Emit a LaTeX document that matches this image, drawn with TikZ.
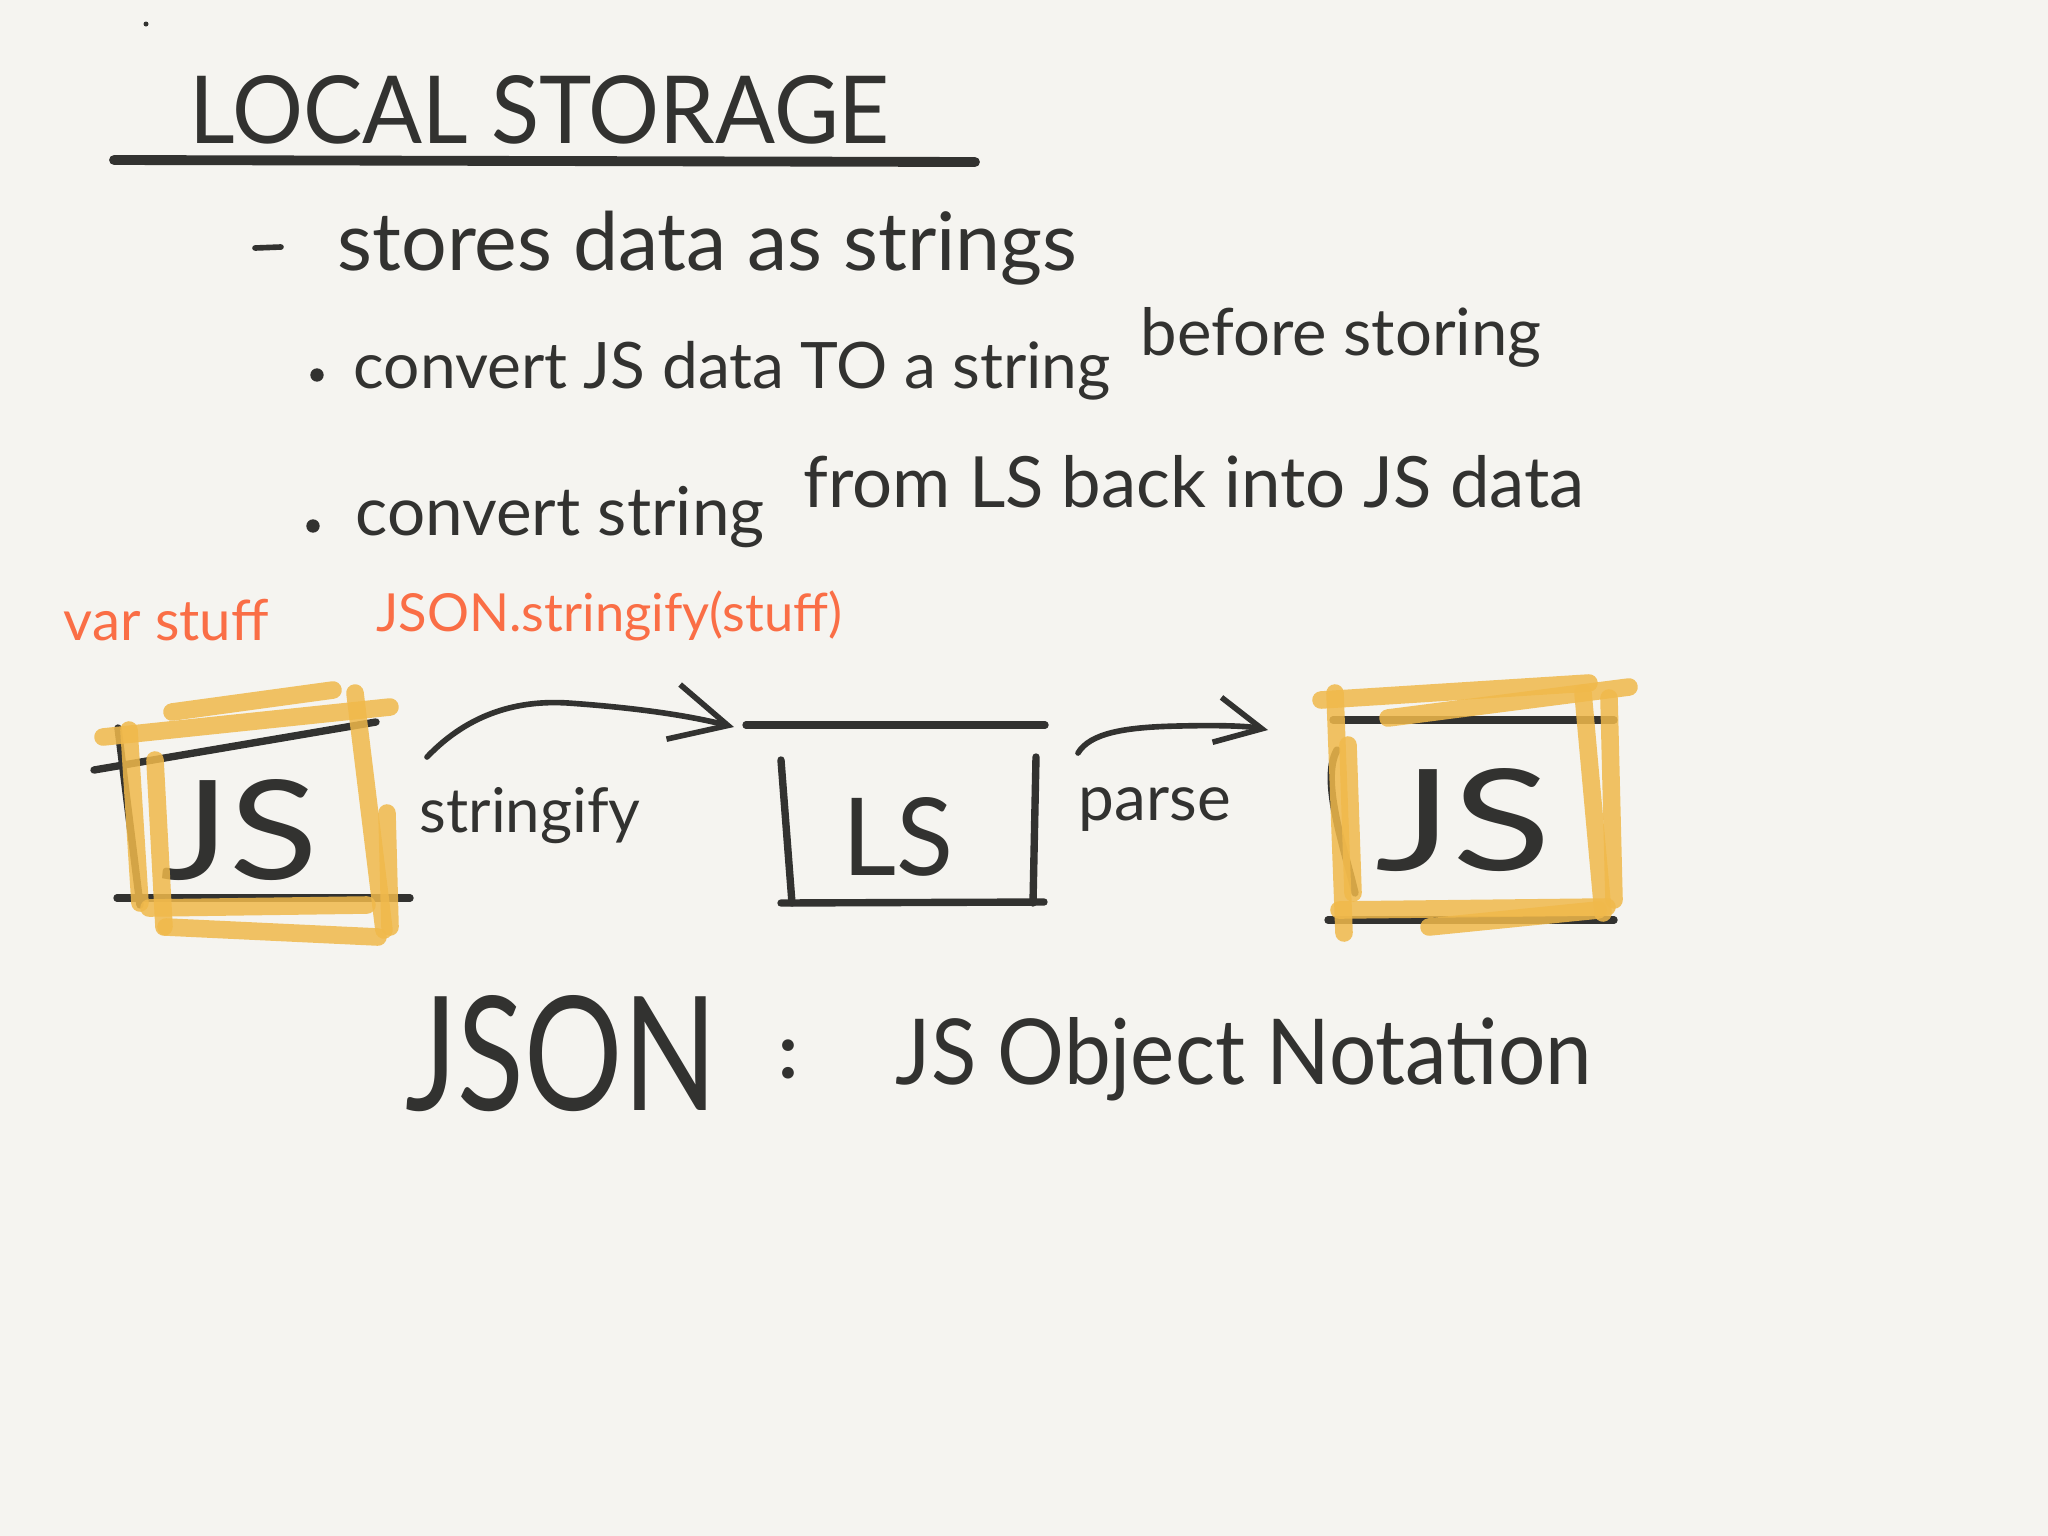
\documentclass[tikz,border=0pt]{standalone}
\usepackage{fontspec}
\setmainfont{Lato}
\usetikzlibrary{arrows.meta}
\definecolor{ink}{RGB}{50,50,48}
\definecolor{hl}{RGB}{240,185,75}
\definecolor{redink}{RGB}{250,110,70}
\definecolor{paper}{RGB}{245,244,240}
\newlength\pxu \setlength\pxu{0.01cm}
\newcommand\fw[2]{\resizebox{#1\pxu}{!}{#2}}
\newcommand\fwh[3]{\resizebox{#1\pxu}{#2\pxu}{#3}}
\begin{document}
\begin{tikzpicture}[x=0.01cm,y=-0.01cm,line cap=round,line join=round,
  inkline/.style={draw=ink,line width=1.6pt},
  boxline/.style={draw=ink,line width=2.1pt},
  hlstroke/.style={draw=hl,line width=5pt,opacity=0.85},
  txt/.style={inner sep=0pt,anchor=base west,text=ink},
  redtxt/.style={inner sep=0pt,anchor=base west,text=redink},
  dotb/.style={circle,fill=ink,inner sep=0pt,minimum size=3.8pt},
  barb/.style={-{Straight Barb[length=#1,width=#1,line width=1.6pt]}}]
\fill[paper] (0,0) rectangle (2048,1536);
\useasboundingbox (0,0) rectangle (2048,1536);

% title
\fill[ink] (146,24) circle (2.5);
\node[txt] (title) at (189,143) {\fwh{700}{68}{LOCAL STORAGE}};
\coordinate (ulA) at (114,160);
\coordinate (ulB) at (975,162);
\draw[draw=ink,line width=2.8pt] (ulA) -- (ulB);

% list
\coordinate (dA) at (255,248);
\coordinate (dB) at (281,247);
\draw[inkline] (dA) -- (dB);
\node[txt] (l1) at (337,270) {\fw{740}{stores data as strings}};
\node[dotb] (b1) at (317,375) {};
\node[txt] (l2a) at (353,388) {\fw{757}{convert JS data TO a string}};
\node[txt] (l2b) at (1140,355) {\fw{401}{before storing}};
\node[dotb] (b2) at (313,526) {};
\node[txt] (l3a) at (355,535) {\fw{409}{convert string}};
\node[txt] (l3b) at (803,507) {\fw{781}{from LS back into JS data}};

% red notes
\node[redtxt] (vs) at (63,640) {\fw{205}{var stuff}};
\node[redtxt] (jsfn) at (376,631) {\fw{466}{JSON.stringify(stuff)}};

% left JS box
\draw[boxline] (94,770) -- (376,722);
\draw[boxline] (117,898) -- (410,898);
\draw[boxline] (118,728) -- (140,905);
\node[txt] (jsL) at (160,879) {\fwh{158}{100}{JS}};
\draw[hlstroke] (103,737) -- (390,707);
\draw[hlstroke] (172,712) -- (333,690);
\draw[hlstroke] (129,730) -- (140,903);
\draw[hlstroke] (155,760) -- (164,927);
\draw[hlstroke] (355,693) -- (384,930);
\draw[hlstroke] (387,813) -- (390,927);
\draw[hlstroke] (149,908) -- (367,905);
\draw[hlstroke] (166,927) -- (378,937);

% stringify arrow
\coordinate (s1) at (427,757);
\coordinate (s2) at (734,727);
\draw[inkline,barb=16pt] (s1) .. controls (470,712) and (520,700) .. (568,703)
  .. controls (640,708) and (690,716) .. (s2);
\node[txt] (strfy) at (419,832) {\fw{221}{stringify}};

% LS box
\draw[boxline] (746,725) -- (1045,725);
\draw[boxline] (781,760) -- (792,903);
\draw[boxline] (781,903) -- (1044,902);
\draw[boxline] (1036,757) -- (1033,903);
\node[txt] (ls) at (842,875) {\fwh{111}{78}{LS}};

% parse arrow
\coordinate (p1) at (1078,753);
\coordinate (p2) at (1268,730);
\draw[inkline,barb=13pt] (p1) .. controls (1090,733) and (1125,727) .. (1179,726)
  .. controls (1220,725) and (1248,726) .. (p2);
\node[txt] (parse) at (1078,820) {\fw{152}{parse}};

% right JS box
\draw[boxline] (1333,720) -- (1614,720);
\draw[boxline] (1328,920) -- (1614,920);
\draw[boxline] (1337,750) .. controls (1320,780) and (1345,850) .. (1355,893);
\node[txt] (jsR) at (1375,870) {\fwh{176}{102}{JS}};
\draw[hlstroke] (1321,700) -- (1589,683);
\draw[hlstroke] (1388,718) -- (1629,687);
\draw[hlstroke] (1335,693) -- (1344,933);
\draw[hlstroke] (1348,745) -- (1353,893);
\draw[hlstroke] (1583,693) -- (1603,913);
\draw[hlstroke] (1609,698) -- (1614,900);
\draw[hlstroke] (1339,910) -- (1607,907);
\draw[hlstroke] (1429,927) -- (1598,910);

% JSON line
\node[txt] (json) at (405,1110) {\fwh{311}{115}{JSON}};
\node[txt,anchor=base] (colon) at (788,1078) {\fontsize{22}{24}\selectfont\bfseries :};
\node[txt] (jsobj) at (895,1084) {\fwh{696}{67}{JS Object Notation}};
\end{tikzpicture}
\end{document}
